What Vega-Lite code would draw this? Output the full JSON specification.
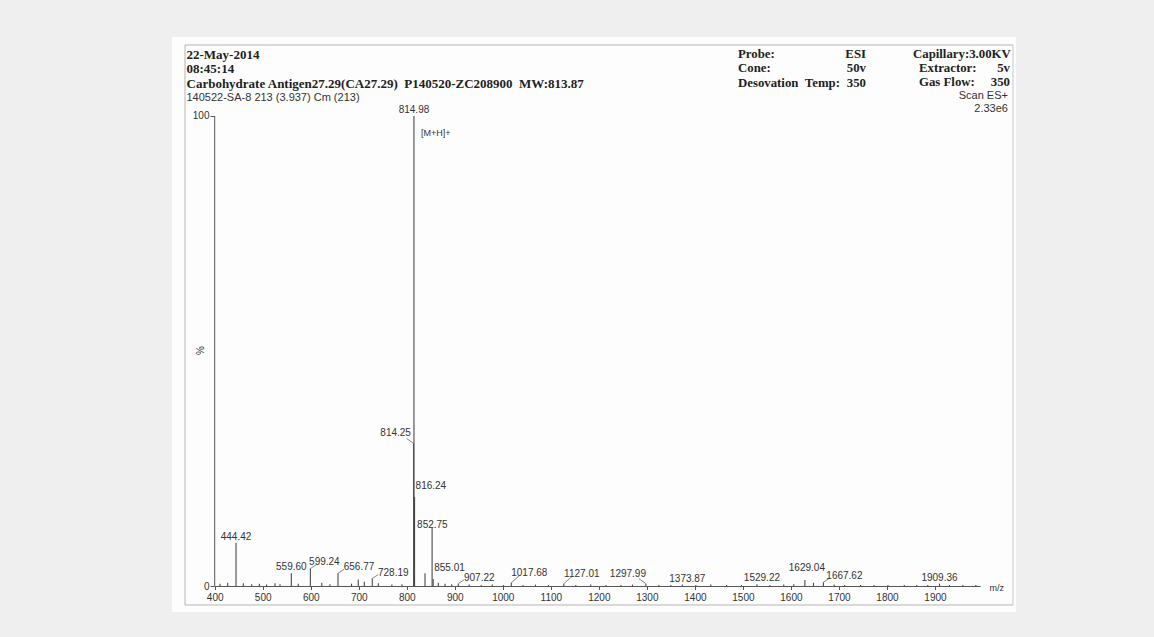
{
  "$schema": "https://vega.github.io/schema/vega-lite/v6.json",
  "description": "ESI mass spectrum of Carbohydrate Antigen27.29 (CA27.29)",
  "width": 844,
  "height": 575,
  "autosize": {"type": "none"},
  "padding": {"left": 172, "top": 37, "right": 138, "bottom": 25},
  "background": "#efefef",
  "config": {
    "view": {"fill": "#fdfdfd", "stroke": null},
    "text": {"font": "Liberation Sans", "fontSize": 10, "fill": "#333"},
    "axis": {"grid": false}
  },
  "data": {
    "values": [
      {"mz": 814.98, "pct": 100, "label": "814.98", "note": "[M+H]+"},
      {"mz": 814.25, "pct": 30.4, "label": "814.25"},
      {"mz": 816.24, "pct": 19.0, "label": "816.24"},
      {"mz": 852.75, "pct": 12.5, "label": "852.75"},
      {"mz": 855.01, "pct": 1.6, "label": "855.01"},
      {"mz": 444.42, "pct": 9.3, "label": "444.42"},
      {"mz": 559.60, "pct": 2.8, "label": "559.60"},
      {"mz": 599.24, "pct": 3.8, "label": "599.24"},
      {"mz": 656.77, "pct": 2.8, "label": "656.77"},
      {"mz": 728.19, "pct": 1.7, "label": "728.19"},
      {"mz": 907.22, "pct": 0.6, "label": "907.22"},
      {"mz": 1017.68, "pct": 0.8, "label": "1017.68"},
      {"mz": 1127.01, "pct": 0.6, "label": "1127.01"},
      {"mz": 1297.99, "pct": 0.6, "label": "1297.99"},
      {"mz": 1373.87, "pct": 0.4, "label": "1373.87"},
      {"mz": 1529.22, "pct": 0.5, "label": "1529.22"},
      {"mz": 1629.04, "pct": 1.4, "label": "1629.04"},
      {"mz": 1667.62, "pct": 0.9, "label": "1667.62"},
      {"mz": 1909.36, "pct": 0.6, "label": "1909.36"},
      {"mz": 411, "pct": 0.6},
      {"mz": 427, "pct": 0.8},
      {"mz": 459.6, "pct": 0.7},
      {"mz": 477, "pct": 0.5},
      {"mz": 493, "pct": 0.6},
      {"mz": 508, "pct": 0.4},
      {"mz": 525.6, "pct": 0.7},
      {"mz": 536, "pct": 0.5},
      {"mz": 574, "pct": 0.6},
      {"mz": 623, "pct": 0.8},
      {"mz": 640, "pct": 0.5},
      {"mz": 685, "pct": 0.6},
      {"mz": 699, "pct": 1.5},
      {"mz": 711.6, "pct": 1.0},
      {"mz": 740.7, "pct": 0.7},
      {"mz": 769, "pct": 0.4},
      {"mz": 790, "pct": 0.5},
      {"mz": 838, "pct": 2.8},
      {"mz": 865.7, "pct": 0.8},
      {"mz": 879.6, "pct": 0.6},
      {"mz": 893.6, "pct": 0.5},
      {"mz": 930, "pct": 0.4},
      {"mz": 955, "pct": 0.3},
      {"mz": 978, "pct": 0.4},
      {"mz": 1001, "pct": 0.3},
      {"mz": 1042, "pct": 0.3},
      {"mz": 1068, "pct": 0.4},
      {"mz": 1095, "pct": 0.3},
      {"mz": 1152, "pct": 0.3},
      {"mz": 1183, "pct": 0.4},
      {"mz": 1215, "pct": 0.3},
      {"mz": 1246, "pct": 0.3},
      {"mz": 1270, "pct": 0.4},
      {"mz": 1325, "pct": 0.3},
      {"mz": 1350, "pct": 0.3},
      {"mz": 1402, "pct": 0.3},
      {"mz": 1433, "pct": 0.4},
      {"mz": 1466, "pct": 0.3},
      {"mz": 1497, "pct": 0.3},
      {"mz": 1556, "pct": 0.3},
      {"mz": 1585, "pct": 0.4},
      {"mz": 1606, "pct": 0.5},
      {"mz": 1647, "pct": 0.8},
      {"mz": 1690, "pct": 0.4},
      {"mz": 1712, "pct": 0.3},
      {"mz": 1745, "pct": 0.3},
      {"mz": 1773, "pct": 0.3},
      {"mz": 1802, "pct": 0.3},
      {"mz": 1836, "pct": 0.3},
      {"mz": 1862, "pct": 0.3},
      {"mz": 1885, "pct": 0.3},
      {"mz": 1930, "pct": 0.3},
      {"mz": 1958, "pct": 0.3},
      {"mz": 1985, "pct": 0.3}
    ]
  },
  "layer": [
    {
      "mark": {"type": "rule", "color": "#4a4a4a", "strokeWidth": 1.1},
      "encoding": {
        "x": {
          "field": "mz",
          "type": "quantitative",
          "scale": {"domain": [311.1, 2068.7], "nice": false, "zero": false},
          "axis": {
            "values": [400, 500, 600, 700, 800, 900, 1000, 1100, 1200, 1300, 1400, 1500, 1600, 1700, 1800, 1900],
            "format": "d",
            "offset": -25.5,
            "domain": false,
            "tickSize": 3,
            "tickColor": "#555",
            "labelPadding": 3,
            "labelFont": "Liberation Sans",
            "labelFontSize": 10,
            "labelColor": "#333",
            "title": null
          }
        },
        "y": {
          "field": "pct",
          "type": "quantitative",
          "scale": {"domain": [-5.42, 116.79], "nice": false, "zero": false},
          "axis": {
            "values": [0, 100],
            "format": "d",
            "offset": -42,
            "domain": false,
            "tickSize": 4,
            "tickColor": "#555",
            "labelPadding": 1,
            "labelFont": "Liberation Sans",
            "labelFontSize": 10,
            "labelColor": "#333",
            "title": "%",
            "titleFont": "Liberation Sans",
            "titleFontSize": 10,
            "titleFontWeight": "normal",
            "titleColor": "#333",
            "titleX": -9,
            "titleY": 313
          }
        },
        "y2": {"datum": 0}
      }
    },
    {
      "data": {"values": [{}]},
      "mark": {"type": "rule", "color": "#b5b5b5", "strokeWidth": 1},
      "encoding": {
        "x": {"datum": 338.2, "type": "quantitative"},
        "x2": {"datum": 2062.4},
        "y": {"datum": 115.09, "type": "quantitative"}
      }
    },
    {
      "data": {"values": [{}]},
      "mark": {"type": "rule", "color": "#b5b5b5", "strokeWidth": 1},
      "encoding": {
        "x": {"datum": 338.2, "type": "quantitative"},
        "x2": {"datum": 2062.4},
        "y": {"datum": -3.93, "type": "quantitative"}
      }
    },
    {
      "data": {"values": [{}]},
      "mark": {"type": "rule", "color": "#b5b5b5", "strokeWidth": 1},
      "encoding": {
        "x": {"datum": 338.2, "type": "quantitative"},
        "y": {"datum": -3.93, "type": "quantitative"},
        "y2": {"datum": 115.09}
      }
    },
    {
      "data": {"values": [{}]},
      "mark": {"type": "rule", "color": "#c8c8c8", "strokeWidth": 1},
      "encoding": {
        "x": {"datum": 2062.4, "type": "quantitative"},
        "y": {"datum": -3.93, "type": "quantitative"},
        "y2": {"datum": 115.09}
      }
    },
    {
      "data": {"values": [{}]},
      "mark": {"type": "rule", "color": "#555", "strokeWidth": 1},
      "encoding": {
        "x": {"datum": 400, "type": "quantitative"},
        "x2": {"datum": 1995},
        "y": {"datum": 0, "type": "quantitative"}
      }
    },
    {
      "data": {"values": [{}]},
      "mark": {"type": "rule", "color": "#555", "strokeWidth": 1},
      "encoding": {
        "x": {"datum": 400, "type": "quantitative"},
        "y": {"datum": 0, "type": "quantitative"},
        "y2": {"datum": 100}
      }
    },
    {
      "transform": [{"filter": {"field": "label", "oneOf": ["599.24", "656.77", "728.19", "907.22", "1667.62"]}}],
      "mark": {"type": "rule", "color": "#666", "strokeWidth": 0.8, "x2Offset": 6, "y2Offset": -4},
      "encoding": {
        "x": {"field": "mz", "type": "quantitative"},
        "y": {"field": "pct", "type": "quantitative"},
        "x2": {"field": "mz"},
        "y2": {"field": "pct"}
      }
    },
    {
      "transform": [{"filter": {"field": "label", "oneOf": ["1017.68", "1127.01"]}}],
      "mark": {"type": "rule", "color": "#666", "strokeWidth": 0.8, "x2Offset": 8, "y2Offset": -7},
      "encoding": {
        "x": {"field": "mz", "type": "quantitative"},
        "y": {"field": "pct", "type": "quantitative"},
        "x2": {"field": "mz"},
        "y2": {"field": "pct"}
      }
    },
    {
      "transform": [{"filter": {"field": "label", "oneOf": ["814.25", "1297.99"]}}],
      "mark": {"type": "rule", "color": "#666", "strokeWidth": 0.8, "x2Offset": -7, "y2Offset": -5},
      "encoding": {
        "x": {"field": "mz", "type": "quantitative"},
        "y": {"field": "pct", "type": "quantitative"},
        "x2": {"field": "mz"},
        "y2": {"field": "pct"}
      }
    },
    {
      "transform": [{"filter": {"field": "label", "oneOf": ["814.98", "444.42", "559.60", "1909.36"]}}],
      "mark": {"type": "text", "align": "center", "baseline": "middle", "dx": 0, "dy": -6},
      "encoding": {
        "x": {"field": "mz", "type": "quantitative"},
        "y": {"field": "pct", "type": "quantitative"},
        "text": {"field": "label"}
      }
    },
    {
      "transform": [{"filter": {"field": "label", "oneOf": ["1373.87", "1529.22"]}}],
      "mark": {"type": "text", "align": "center", "baseline": "middle", "dx": 5, "dy": -6},
      "encoding": {
        "x": {"field": "mz", "type": "quantitative"},
        "y": {"field": "pct", "type": "quantitative"},
        "text": {"field": "label"}
      }
    },
    {
      "transform": [{"filter": {"field": "label", "oneOf": ["1629.04"]}}],
      "mark": {"type": "text", "align": "center", "baseline": "middle", "dx": 2, "dy": -12},
      "encoding": {
        "x": {"field": "mz", "type": "quantitative"},
        "y": {"field": "pct", "type": "quantitative"},
        "text": {"field": "label"}
      }
    },
    {
      "transform": [{"filter": {"field": "label", "oneOf": ["599.24"]}}],
      "mark": {"type": "text", "align": "center", "baseline": "middle", "dx": 14, "dy": -7},
      "encoding": {
        "x": {"field": "mz", "type": "quantitative"},
        "y": {"field": "pct", "type": "quantitative"},
        "text": {"field": "label"}
      }
    },
    {
      "transform": [{"filter": {"field": "label", "oneOf": ["656.77", "728.19", "907.22", "1667.62"]}}],
      "mark": {"type": "text", "align": "center", "baseline": "middle", "dx": 21, "dy": -6},
      "encoding": {
        "x": {"field": "mz", "type": "quantitative"},
        "y": {"field": "pct", "type": "quantitative"},
        "text": {"field": "label"}
      }
    },
    {
      "transform": [{"filter": {"field": "label", "oneOf": ["1017.68", "1127.01"]}}],
      "mark": {"type": "text", "align": "center", "baseline": "middle", "dx": 18, "dy": -10},
      "encoding": {
        "x": {"field": "mz", "type": "quantitative"},
        "y": {"field": "pct", "type": "quantitative"},
        "text": {"field": "label"}
      }
    },
    {
      "transform": [{"filter": {"field": "label", "oneOf": ["814.25", "1297.99"]}}],
      "mark": {"type": "text", "align": "center", "baseline": "middle", "dx": -18, "dy": -10},
      "encoding": {
        "x": {"field": "mz", "type": "quantitative"},
        "y": {"field": "pct", "type": "quantitative"},
        "text": {"field": "label"}
      }
    },
    {
      "transform": [{"filter": {"field": "label", "oneOf": ["816.24", "855.01"]}}],
      "mark": {"type": "text", "align": "left", "baseline": "middle", "dx": 1, "dy": -11},
      "encoding": {
        "x": {"field": "mz", "type": "quantitative"},
        "y": {"field": "pct", "type": "quantitative"},
        "text": {"field": "label"}
      }
    },
    {
      "transform": [{"filter": {"field": "label", "oneOf": ["852.75"]}}],
      "mark": {"type": "text", "align": "left", "baseline": "middle", "dx": -15, "dy": -3},
      "encoding": {
        "x": {"field": "mz", "type": "quantitative"},
        "y": {"field": "pct", "type": "quantitative"},
        "text": {"field": "label"}
      }
    },
    {
      "transform": [{"filter": "isValid(datum.note)"}],
      "mark": {"type": "text", "align": "left", "baseline": "middle", "dx": 7, "dy": 17, "fontSize": 9},
      "encoding": {
        "x": {"field": "mz", "type": "quantitative"},
        "y": {"field": "pct", "type": "quantitative"},
        "text": {"field": "note"}
      }
    },
    {
      "data": {"values": [{}]},
      "mark": {"type": "text", "align": "center", "baseline": "middle", "text": "m/z", "fontSize": 9},
      "encoding": {
        "x": {"datum": 2028.5, "type": "quantitative"},
        "y": {"datum": -0.38, "type": "quantitative"}
      }
    },
    {
      "data": {"values": [{}]},
      "mark": {
        "type": "text",
        "align": "left",
        "baseline": "middle",
        "font": "Liberation Serif",
        "fontWeight": "bold",
        "fontSize": 13,
        "lineHeight": 14.3,
        "fill": "#222",
        "text": ["22-May-2014", "08:45:14", "Carbohydrate Antigen27.29(CA27.29)\u00a0\u00a0P140520-ZC208900\u00a0\u00a0MW:813.87"]
      },
      "encoding": {
        "x": {"datum": 341.3, "type": "quantitative"},
        "y": {"datum": 112.96, "type": "quantitative"}
      }
    },
    {
      "data": {"values": [{}]},
      "mark": {"type": "text", "align": "left", "baseline": "middle", "fontSize": 11, "text": "140522-SA-8 213 (3.937) Cm (213)"},
      "encoding": {
        "x": {"datum": 341.3, "type": "quantitative"},
        "y": {"datum": 103.83, "type": "quantitative"}
      }
    },
    {
      "data": {"values": [{}]},
      "mark": {
        "type": "text",
        "align": "left",
        "baseline": "middle",
        "font": "Liberation Serif",
        "fontWeight": "bold",
        "fontSize": 12.8,
        "lineHeight": 14.3,
        "fill": "#222",
        "text": ["Probe:", "Cone:", "Desovation\u00a0\u00a0Temp:"]
      },
      "encoding": {
        "x": {"datum": 1489.8, "type": "quantitative"},
        "y": {"datum": 113.18, "type": "quantitative"}
      }
    },
    {
      "data": {"values": [{}]},
      "mark": {
        "type": "text",
        "align": "right",
        "baseline": "middle",
        "font": "Liberation Serif",
        "fontWeight": "bold",
        "fontSize": 12.8,
        "lineHeight": 14.3,
        "fill": "#222",
        "text": ["ESI", "50v", "350"]
      },
      "encoding": {
        "x": {"datum": 1756.3, "type": "quantitative"},
        "y": {"datum": 113.18, "type": "quantitative"}
      }
    },
    {
      "data": {"values": [{}]},
      "mark": {
        "type": "text",
        "align": "left",
        "baseline": "middle",
        "font": "Liberation Serif",
        "fontWeight": "bold",
        "fontSize": 12.8,
        "fill": "#222",
        "text": "Capillary:3.00KV"
      },
      "encoding": {
        "x": {"datum": 1854.2, "type": "quantitative"},
        "y": {"datum": 113.18, "type": "quantitative"}
      }
    },
    {
      "data": {"values": [{}]},
      "mark": {
        "type": "text",
        "align": "left",
        "baseline": "middle",
        "font": "Liberation Serif",
        "fontWeight": "bold",
        "fontSize": 12.8,
        "lineHeight": 14.3,
        "fill": "#222",
        "text": ["Extractor:", "Gas Flow:"]
      },
      "encoding": {
        "x": {"datum": 1866.7, "type": "quantitative"},
        "y": {"datum": 110.16, "type": "quantitative"}
      }
    },
    {
      "data": {"values": [{}]},
      "mark": {
        "type": "text",
        "align": "right",
        "baseline": "middle",
        "font": "Liberation Serif",
        "fontWeight": "bold",
        "fontSize": 12.8,
        "lineHeight": 14.3,
        "fill": "#222",
        "text": ["5v", "350"]
      },
      "encoding": {
        "x": {"datum": 2056.2, "type": "quantitative"},
        "y": {"datum": 110.16, "type": "quantitative"}
      }
    },
    {
      "data": {"values": [{}]},
      "mark": {
        "type": "text",
        "align": "right",
        "baseline": "middle",
        "fontSize": 11,
        "lineHeight": 13,
        "text": ["Scan ES+", "2.33e6"]
      },
      "encoding": {
        "x": {"datum": 2052.0, "type": "quantitative"},
        "y": {"datum": 104.25, "type": "quantitative"}
      }
    }
  ]
}
